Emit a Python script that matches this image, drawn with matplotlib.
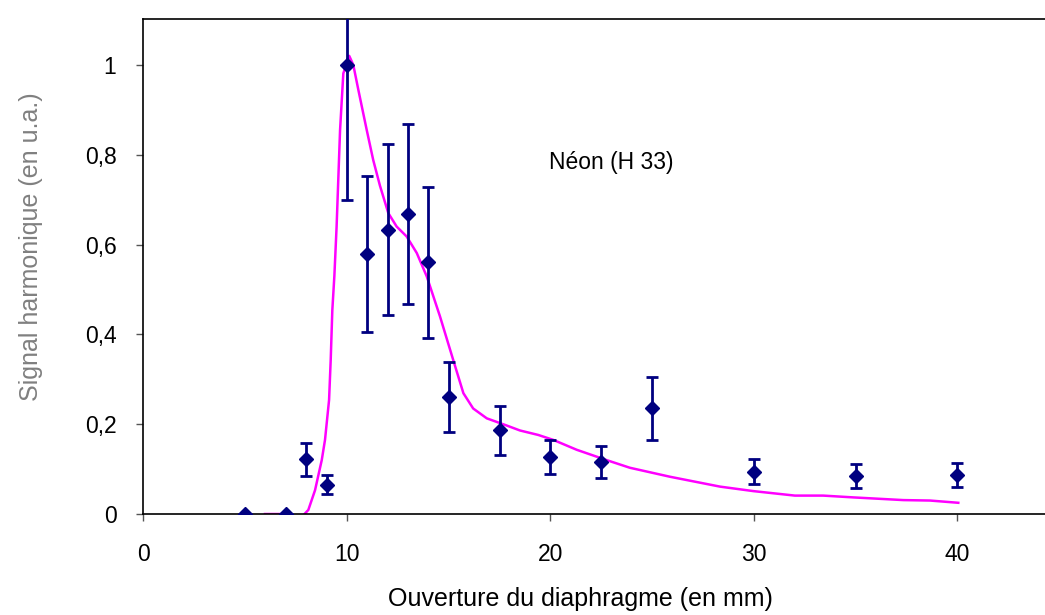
import matplotlib
matplotlib.use('Agg')
import matplotlib.pyplot as plt
from matplotlib.ticker import FuncFormatter

plt.rcParams['font.family'] = ['Liberation Sans', 'DejaVu Sans']

# Mesures (points avec barres d'erreur)
ouverture = [5, 7, 8, 9, 10, 11, 12, 13, 14, 15, 17.5, 20, 22.5, 25, 30, 35, 40]
signal = [0.0, 0.0, 0.122, 0.065, 1.0, 0.579, 0.633, 0.668, 0.560, 0.260,
          0.186, 0.126, 0.116, 0.235, 0.094, 0.085, 0.087]
erreur = [0.0, 0.0, 0.037, 0.021, 0.30, 0.174, 0.19, 0.20, 0.168, 0.078,
          0.055, 0.038, 0.035, 0.071, 0.028, 0.026, 0.026]

# Courbe simulée
x_sim = [5.97, 7.2, 7.7, 8.1, 8.43, 8.76, 8.92, 9.12, 9.2, 9.28, 9.38, 9.49,
         9.66, 9.82, 10.11, 10.31, 10.56, 10.97, 11.29, 11.62, 12.03, 12.44,
         12.93, 13.43, 13.92, 14.57, 15.22, 15.72, 16.2, 16.87, 17.85, 18.5,
         19.4, 20.14, 21.29, 22.76, 23.9, 25.87, 28.33, 29.97, 32.01, 33.4,
         34.88, 37.34, 38.65, 40.04]
y_sim = [0.0, 0.0, -0.01, 0.009, 0.053, 0.12, 0.165, 0.254, 0.343, 0.454, 0.53,
         0.64, 0.855, 0.981, 1.02, 1.0, 0.944, 0.855, 0.788, 0.731, 0.67, 0.64,
         0.618, 0.581, 0.529, 0.44, 0.343, 0.269, 0.235, 0.213, 0.197, 0.186,
         0.176, 0.165, 0.143, 0.12, 0.103, 0.083, 0.061, 0.051, 0.041, 0.041,
         0.037, 0.031, 0.03, 0.025]

fig = plt.figure(figsize=(10.45, 6.15), dpi=100)
ax = fig.add_axes([0.1373, 0.1642, 0.8627, 0.8041])

ax.plot(x_sim, y_sim, color='#FF00FF', lw=1.8, zorder=2)
ax.errorbar(ouverture, signal, yerr=erreur, fmt='D', color='#000080',
            ecolor='#000080', markersize=7, elinewidth=2, capsize=4,
            capthick=2, zorder=3)

ax.text(23.0, 0.782, 'Néon (H 33)', fontsize=16.5, ha='center', va='center')

ax.set_xlim(0, 44.3)
ax.set_ylim(0, 1.101)
ax.set_xticks([0, 10, 20, 30, 40])
ax.set_yticks([0, 0.2, 0.4, 0.6, 0.8, 1.0])
ax.yaxis.set_major_formatter(FuncFormatter(lambda v, p: ('%g' % round(v, 1)).replace('.', ',')))
ax.tick_params(labelsize=16.5, direction='out', length=5, width=1, color='#555555')
ax.tick_params(axis='y', pad=14.5)
ax.tick_params(axis='x', pad=16)

ax.spines['right'].set_visible(False)
for s in ['left', 'top', 'bottom']:
    ax.spines[s].set_linewidth(1.2)

ax.set_xlabel('Ouverture du diaphragme (en mm)', fontsize=18)
ax.set_ylabel('Signal harmonique (en u.a.)', fontsize=18, color='#808080')
ax.xaxis.set_label_coords(0.4845, -0.148)
ax.yaxis.set_label_coords(-0.1115, 0.541)

fig.savefig('out.png', dpi=100)
